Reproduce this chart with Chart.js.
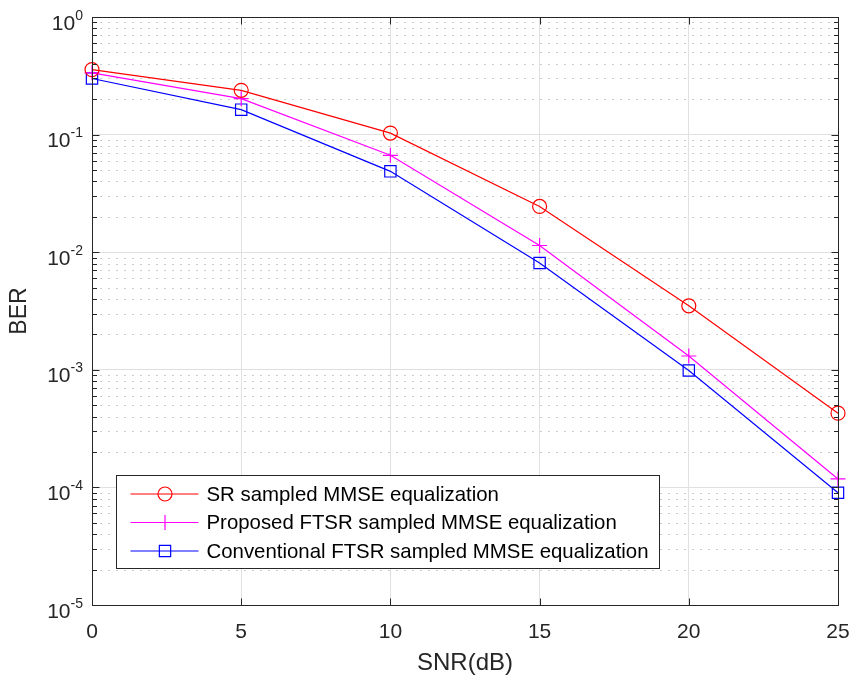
<!DOCTYPE html>
<html>
<head>
<meta charset="utf-8">
<script src="https://cdn.jsdelivr.net/npm/chart.js@4.4.0/dist/chart.umd.min.js"></script>
<style>
  html, body { margin: 0; padding: 0; background: #fff; }
  #wrap { width: 854px; height: 682px; }
</style>
</head>
<body>
<div id="wrap"><canvas id="berChart" width="854" height="682"></canvas></div>
<script>
// values
const snr = [0, 5, 10, 15, 20, 25];
const berSR = [0.357, 0.238, 0.103, 0.0245, 0.0035, 0.000428];
const berProposed = [0.335, 0.202, 0.0667, 0.0114, 0.00131, 0.000118];
const berConventional = [0.300, 0.163, 0.0487, 0.0081, 0.000986, 0.00009];
const seriesLabels = [
  "SR sampled MMSE equalization",
  "Proposed FTSR sampled MMSE equalization",
  "Conventional FTSR sampled MMSE equalization"
];
const xTicks = [0, 5, 10, 15, 20, 25];
const yDecades = [-5, -4, -3, -2, -1, 0];

const axisColor = "#262626";
const fontFamily = "'Liberation Sans', Arial, Helvetica, sans-serif";

function toPoints(ys) {
  return snr.map((x, i) => ({ x: x, y: ys[i] }));
}

// simple marker drawing, used for the legend
function drawMarker(ctx, style, x, y, r, color) {
  ctx.save();
  ctx.strokeStyle = color;
  ctx.lineWidth = 1.2;
  ctx.beginPath();
  if (style === "circle") {
    ctx.arc(x, y, r, 0, Math.PI * 2);
  } else if (style === "cross") {
    ctx.moveTo(x - r, y); ctx.lineTo(x + r, y);
    ctx.moveTo(x, y - r); ctx.lineTo(x, y + r);
  } else {
    const h = r * Math.SQRT1_2;
    ctx.rect(x - h, y - h, 2 * h, 2 * h);
  }
  ctx.stroke();
  ctx.restore();
}

// MATLAB-like axes: dotted minor grid, inward ticks, box, 10^n labels, legend
const matlabAxes = {
  id: "matlabAxes",
  beforeDatasetsDraw(chart) {
    const { ctx, chartArea: a, scales: { y } } = chart;
    ctx.save();
    ctx.strokeStyle = "#cdcdcd";
    ctx.lineWidth = 1;
    ctx.setLineDash([2, 6]);
    yDecades.slice(0, -1).forEach((d) => {
      for (let m = 2; m <= 9; m++) {
        const py = Math.round(y.getPixelForValue(m * Math.pow(10, d))) + 0.5;
        ctx.beginPath();
        ctx.moveTo(a.left, py);
        ctx.lineTo(a.right, py);
        ctx.stroke();
      }
    });
    ctx.restore();
  },
  afterDraw(chart) {
    const { ctx, chartArea: a, scales: { x, y } } = chart;
    const L = Math.round(a.left) + 0.5, R = Math.round(a.right) + 0.5;
    const T = Math.round(a.top) + 0.5, B = Math.round(a.bottom) + 0.5;
    ctx.save();
    ctx.strokeStyle = axisColor;
    ctx.lineWidth = 1;
    ctx.strokeRect(L, T, R - L, B - T);

    ctx.beginPath();
    xTicks.forEach((v) => {
      const px = Math.round(x.getPixelForValue(v)) + 0.5;
      ctx.moveTo(px, B); ctx.lineTo(px, B - 7);
      ctx.moveTo(px, T); ctx.lineTo(px, T + 7);
    });
    yDecades.forEach((d) => {
      const py = Math.round(y.getPixelForValue(Math.pow(10, d))) + 0.5;
      ctx.moveTo(L, py); ctx.lineTo(L + 7, py);
      ctx.moveTo(R, py); ctx.lineTo(R - 7, py);
      if (d < 0) {
        for (let m = 2; m <= 9; m++) {
          const pm = Math.round(y.getPixelForValue(m * Math.pow(10, d))) + 0.5;
          ctx.moveTo(L, pm); ctx.lineTo(L + 4.5, pm);
          ctx.moveTo(R, pm); ctx.lineTo(R - 4.5, pm);
        }
      }
    });
    ctx.stroke();

    // y tick labels with superscript exponents
    ctx.fillStyle = axisColor;
    ctx.textBaseline = "alphabetic";
    ctx.textAlign = "left";
    yDecades.forEach((d) => {
      const py = y.getPixelForValue(Math.pow(10, d));
      const sup = String(d);
      ctx.font = "14px " + fontFamily;
      const supW = ctx.measureText(sup).width;
      ctx.font = "21px " + fontFamily;
      const baseW = ctx.measureText("10").width;
      const xEnd = a.left - 9;
      ctx.fillText("10", xEnd - supW - baseW, py + 12.5);
      ctx.font = "14px " + fontFamily;
      ctx.fillText(sup, xEnd - supW, py + 2.5);
    });

    // legend box
    const box = { x: 116.5, y: 475.5, w: 543, h: 93 };
    ctx.fillStyle = "#fff";
    ctx.fillRect(box.x, box.y, box.w, box.h);
    ctx.strokeStyle = axisColor;
    ctx.strokeRect(box.x, box.y, box.w, box.h);
    ctx.font = "20.4px " + fontFamily;
    ctx.textBaseline = "middle";
    chart.data.datasets.forEach((ds, i) => {
      const cy = box.y + 18.5 + i * 28.5;
      ctx.strokeStyle = ds.borderColor;
      ctx.lineWidth = 1.2;
      ctx.beginPath();
      ctx.moveTo(box.x + 14, cy);
      ctx.lineTo(box.x + 82, cy);
      ctx.stroke();
      drawMarker(ctx, ds.pointStyle, box.x + 48.5, cy, ds.pointRadius, ds.borderColor);
      ctx.fillStyle = "#000";
      ctx.fillText(ds.label, box.x + 90, cy + 1);
    });
    ctx.restore();
  }
};

function makeSeries(label, ys, color, style, radius) {
  return {
    label: label,
    data: toPoints(ys),
    borderColor: color,
    backgroundColor: color,
    borderWidth: 1.2,
    pointStyle: style,
    pointRadius: radius,
    pointHoverRadius: radius,
    pointBorderColor: color,
    pointBackgroundColor: "rgba(0,0,0,0)",
    pointBorderWidth: 1.2,
    tension: 0,
    clip: false
  };
}

new Chart(document.getElementById("berChart"), {
  type: "line",
  data: {
    datasets: [
      makeSeries(seriesLabels[0], berSR, "#ff0000", "circle", 7),
      makeSeries(seriesLabels[1], berProposed, "#ff00ff", "cross", 7.5),
      makeSeries(seriesLabels[2], berConventional, "#0000ff", "rect", 8)
    ]
  },
  options: {
    responsive: false,
    animation: false,
    devicePixelRatio: 1,
    layout: { padding: { top: 17, right: 16, left: 0, bottom: 0 } },
    plugins: {
      legend: { display: false },
      tooltip: { enabled: false }
    },
    scales: {
      x: {
        type: "linear",
        min: 0,
        max: 25,
        afterBuildTicks: (scale) => {
          scale.ticks = xTicks.map((v) => ({ value: v }));
        },
        afterFit: (scale) => {
          scale.height = 77;
          scale.paddingLeft = 0;
          scale.paddingRight = 0;
        },
        ticks: {
          padding: 15,
          maxRotation: 0,
          autoSkip: false,
          color: axisColor,
          font: { family: fontFamily, size: 21 }
        },
        grid: { color: "#e0e0e0", lineWidth: 1, drawTicks: false },
        border: { display: false },
        title: {
          display: true,
          text: "SNR(dB)",
          color: axisColor,
          font: { family: fontFamily, size: 24, lineHeight: 1 },
          padding: { top: 0, bottom: 7 }
        }
      },
      y: {
        type: "logarithmic",
        min: 1e-5,
        max: 1,
        afterBuildTicks: (scale) => {
          scale.ticks = yDecades.map((d) => ({ value: Math.pow(10, d) }));
        },
        afterFit: (scale) => {
          scale.width = 92;
          scale.paddingTop = 0;
          scale.paddingBottom = 0;
        },
        ticks: { display: false },
        grid: { color: "#e0e0e0", lineWidth: 1, drawTicks: false },
        border: { display: false },
        title: {
          display: true,
          text: "BER",
          color: axisColor,
          font: { family: fontFamily, size: 23, lineHeight: 1 },
          padding: { top: 8, bottom: 0 }
        }
      }
    }
  },
  plugins: [matlabAxes]
});
</script>
</body>
</html>
